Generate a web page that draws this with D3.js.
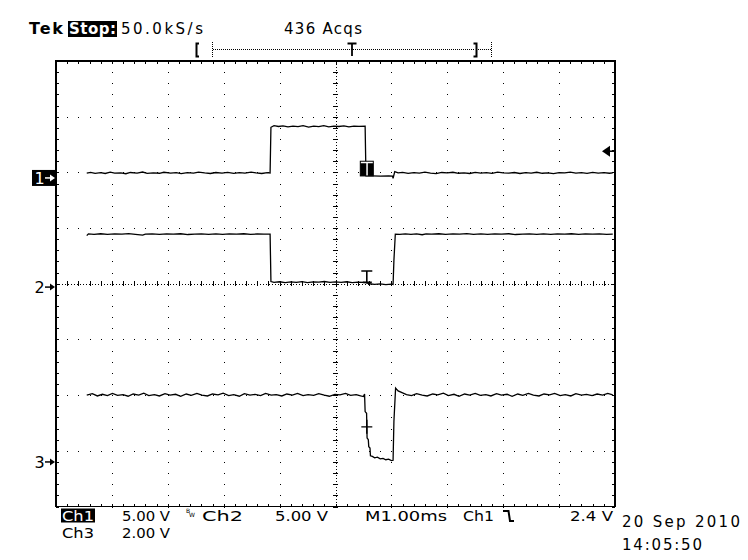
<!DOCTYPE html>
<html>
<head>
<meta charset="utf-8">
<script src="https://cdn.jsdelivr.net/npm/d3@7/dist/d3.min.js"></script>
<style>
  html, body { margin: 0; padding: 0; background: #fff; }
  svg { display: block; }
  text { font-family: "DejaVu Sans", sans-serif; fill: #000; }
  .cond { font-family: "DejaVu Sans Condensed", "DejaVu Sans", sans-serif; font-stretch: condensed; }
</style>
</head>
<body>
<svg id="scope" width="748" height="560"></svg>
<script>
// ---- data ----
// time in ms (1.00 ms/div, 10 divs), volts per channel
const timeDomain = [0, 10];
const divDomain = [-4, 4];
const channelNames = ["1", "2", "3"];
const voltsPerDiv = [5, 5, 2];
const groundDiv = [1.9, -0.06, -3.2];
const triggerLevel = 2.4; // V on Ch1

const ch1Trace = [
  [0.55,0.44],[0.62,0.50],[0.70,0.41],[0.80,0.47],[0.88,0.40],[0.97,0.52],[1.05,0.43],[1.16,0.46],
  [1.25,0.38],[1.33,0.49],[1.45,0.44],[1.55,0.53],[1.63,0.41],[1.74,0.46],[1.85,0.42],[1.93,0.51],
  [2.05,0.44],[2.15,0.47],[2.24,0.39],[2.35,0.48],[2.46,0.43],[2.55,0.52],[2.66,0.45],[2.76,0.40],
  [2.86,0.49],[2.97,0.44],[3.07,0.50],[3.18,0.41],[3.28,0.47],[3.38,0.43],[3.49,0.52],[3.58,0.45],
  [3.68,0.40],[3.78,0.48],[3.83,0.44],
  [3.845,4.55],[3.90,4.70],[3.98,4.62],[4.06,4.68],[4.15,4.58],[4.24,4.66],[4.33,4.60],[4.42,4.69],
  [4.52,4.57],[4.61,4.65],[4.70,4.61],[4.79,4.70],[4.88,4.59],[4.97,4.66],[5.06,4.62],[5.15,4.68],
  [5.24,4.58],[5.33,4.66],[5.42,4.63],[5.53,4.64],
  [5.545,0.18],[5.65,0.18],[5.80,0.17],[5.95,0.18],[6.02,0.16],[6.03,-0.03],[6.06,0.57],[6.12,0.45],
  [6.20,0.50],[6.30,0.41],[6.40,0.47],[6.50,0.43],[6.60,0.52],[6.70,0.44],[6.80,0.39],[6.90,0.49],
  [7.00,0.45],[7.10,0.51],[7.20,0.42],[7.30,0.46],[7.40,0.40],[7.50,0.50],[7.60,0.44],[7.70,0.47],
  [7.80,0.41],[7.90,0.52],[8.00,0.45],[8.10,0.43],[8.20,0.49],[8.30,0.40],[8.40,0.47],[8.50,0.44],
  [8.60,0.51],[8.70,0.42],[8.80,0.46],[8.90,0.39],[9.00,0.48],[9.10,0.45],[9.20,0.52],[9.30,0.43],
  [9.40,0.47],[9.50,0.41],[9.60,0.50],[9.70,0.44],[9.80,0.48],[9.90,0.42],[9.96,0.46]
];

const ch2Trace = [
  [0.55,4.62],[0.58,4.78],[0.68,4.74],[0.80,4.79],[0.92,4.73],[1.05,4.77],[1.18,4.75],[1.30,4.80],
  [1.42,4.74],[1.55,4.66],[1.60,4.76],[1.72,4.78],[1.85,4.73],[1.98,4.77],[2.10,4.75],[2.23,4.79],
  [2.36,4.72],[2.48,4.76],[2.60,4.78],[2.73,4.74],[2.86,4.77],[2.98,4.73],[3.10,4.78],[3.23,4.75],
  [3.36,4.79],[3.48,4.74],[3.60,4.77],[3.72,4.75],[3.83,4.76],
  [3.845,0.50],[3.90,0.42],[4.00,0.48],[4.10,0.40],[4.20,0.46],[4.30,0.43],[4.40,0.49],[4.50,0.41],
  [4.60,0.47],[4.70,0.44],[4.80,0.50],[4.90,0.42],[5.00,0.46],[5.10,0.43],[5.20,0.48],[5.30,0.41],
  [5.40,0.45],[5.50,0.42],[5.56,0.40],
  [5.60,0.30],[5.70,0.25],[5.80,0.28],[5.90,0.22],[6.00,0.26],[6.03,0.24],[6.045,2.40],[6.07,4.76],
  [6.15,4.74],[6.25,4.78],[6.35,4.73],[6.45,4.77],[6.55,4.70],[6.62,4.78],[6.72,4.75],[6.85,4.79],
  [6.97,4.73],[7.10,4.77],[7.22,4.75],[7.35,4.80],[7.47,4.74],[7.60,4.77],[7.72,4.73],[7.85,4.78],
  [7.97,4.75],[8.10,4.79],[8.22,4.72],[8.35,4.76],[8.47,4.78],[8.60,4.74],[8.72,4.77],[8.85,4.73],
  [8.97,4.78],[9.10,4.75],[9.22,4.79],[9.35,4.74],[9.47,4.77],[9.60,4.75],[9.72,4.78],[9.85,4.74],
  [9.96,4.76]
];

const ch3Trace = [
  [0.55,2.40],[0.65,2.45],[0.74,2.37],[0.83,2.43],[0.92,2.38],[1.01,2.46],[1.10,2.39],[1.20,2.42],
  [1.29,2.36],[1.38,2.44],[1.48,2.40],[1.57,2.47],[1.66,2.38],[1.76,2.42],[1.85,2.37],[1.95,2.45],
  [2.04,2.40],[2.14,2.43],[2.23,2.36],[2.33,2.44],[2.42,2.39],[2.52,2.46],[2.61,2.40],[2.71,2.37],
  [2.80,2.44],[2.90,2.41],[2.99,2.47],[3.09,2.38],[3.18,2.42],[3.28,2.36],[3.37,2.45],[3.47,2.40],
  [3.56,2.43],[3.66,2.38],[3.75,2.46],[3.85,2.40],[3.94,2.42],[4.04,2.37],[4.13,2.44],[4.23,2.40],
  [4.32,2.46],[4.42,2.38],[4.51,2.42],[4.61,2.39],[4.70,2.45],[4.80,2.40],[4.89,2.36],[4.99,2.43],
  [5.08,2.41],[5.18,2.46],[5.27,2.39],[5.37,2.42],[5.45,2.37],[5.50,2.35],[5.52,2.44],
  [5.53,1.81],[5.556,1.75],[5.565,0.86],[5.587,0.80],[5.595,0.55],[5.617,0.50],[5.625,0.22],
  [5.66,0.20],[5.70,0.15],[5.75,0.17],[5.80,0.11],[5.85,0.13],[5.90,0.08],[5.95,0.10],[6.00,0.05],
  [6.03,0.06],[6.045,1.45],[6.075,2.65],[6.12,2.55],[6.20,2.48],[6.27,2.42],
  [6.36,2.38],[6.45,2.45],[6.55,2.40],[6.64,2.37],[6.74,2.44],[6.83,2.41],[6.93,2.47],[7.02,2.38],
  [7.12,2.43],[7.21,2.36],[7.31,2.44],[7.40,2.40],[7.50,2.46],[7.59,2.39],[7.69,2.42],[7.78,2.37],
  [7.88,2.45],[7.97,2.40],[8.07,2.43],[8.16,2.36],[8.26,2.44],[8.35,2.39],[8.45,2.46],[8.54,2.40],
  [8.64,2.37],[8.73,2.44],[8.83,2.41],[8.92,2.46],[9.02,2.38],[9.11,2.42],[9.21,2.37],[9.30,2.45],
  [9.40,2.40],[9.49,2.43],[9.59,2.38],[9.68,2.44],[9.78,2.40],[9.87,2.46],[9.96,2.41]
];

// cursor marks sit on each trace at the Ch1 falling edge
const cursorTime = 5.56;
const cursorVolts = [[0.18, 1.5], [0.33, 1.44], [1.26]];

// readouts
const topLabels = ["Tek", "Stop:", "50.0kS/s", "436 Acqs"];
const bottomRow1 = ["Ch1", "5.00 V", "Ch2", "5.00 V", "M1.00ms", "Ch1", "2.4 V"];
const bottomRow2 = ["Ch3", "2.00 V"];
const stamp = ["20 Sep 2010", "14:05:50"];

// ---- layout ----
const X0 = 56, X1 = 615, Y0 = 61, Y1 = 506.5;

const svg = d3.select("#scope");
const x = d3.scaleLinear().domain(timeDomain).range([X0, X1]);
const yDiv = d3.scaleLinear().domain(divDomain).range([Y1, Y0]);
const yV = (ch, v) => yDiv(groundDiv[ch] + v / voltsPerDiv[ch]);

const minorX = d3.range(0, 10.001, 0.2);
const minorY = d3.range(-4, 4.001, 0.2);

// ===Graticule===
const grid = svg.append("g").attr("shape-rendering", "crispEdges");

// dotted division lines: one dot every minor step
d3.range(1, 10).filter(d => d !== 5).forEach(d => {
  grid.selectAll(null).data(minorY).join("rect")
    .attr("x", Math.round(x(d))).attr("y", v => Math.round(yDiv(v)))
    .attr("width", 1).attr("height", 1).attr("fill", "#000");
});
d3.range(-3, 4).filter(d => d !== 0).forEach(d => {
  grid.selectAll(null).data(minorX).join("rect")
    .attr("x", t => Math.round(x(t))).attr("y", Math.round(yDiv(d)))
    .attr("width", 1).attr("height", 1).attr("fill", "#000");
});

// centre cross: dense dots plus minor ticks
grid.append("line")
  .attr("x1", X0).attr("x2", X1).attr("y1", Math.round(yDiv(0)) + 0.5).attr("y2", Math.round(yDiv(0)) + 0.5)
  .attr("stroke", "#000").attr("stroke-dasharray", "1,2");
grid.append("line")
  .attr("y1", Y0).attr("y2", Y1).attr("x1", Math.round(x(5)) + 0.5).attr("x2", Math.round(x(5)) + 0.5)
  .attr("stroke", "#000").attr("stroke-dasharray", "1,2");
grid.selectAll(null).data(minorX).join("line")
  .attr("x1", t => Math.round(x(t)) + 0.5).attr("x2", t => Math.round(x(t)) + 0.5)
  .attr("y1", yDiv(0) - 2.5).attr("y2", yDiv(0) + 2.5)
  .attr("stroke", "#000");
grid.selectAll(null).data(minorY).join("line")
  .attr("y1", v => Math.round(yDiv(v)) + 0.5).attr("y2", v => Math.round(yDiv(v)) + 0.5)
  .attr("x1", x(5) - 2.5).attr("x2", x(5) + 2.5)
  .attr("stroke", "#000");

// edge ticks
grid.selectAll(null).data(minorX).join("line")
  .attr("x1", t => Math.round(x(t)) + 0.5).attr("x2", t => Math.round(x(t)) + 0.5)
  .attr("y1", Y0).attr("y2", Y0 + 3).attr("stroke", "#000");
grid.selectAll(null).data(minorX).join("line")
  .attr("x1", t => Math.round(x(t)) + 0.5).attr("x2", t => Math.round(x(t)) + 0.5)
  .attr("y1", Y1).attr("y2", Y1 - 3).attr("stroke", "#000");
grid.selectAll(null).data(minorY).join("line")
  .attr("y1", v => Math.round(yDiv(v)) + 0.5).attr("y2", v => Math.round(yDiv(v)) + 0.5)
  .attr("x1", X0).attr("x2", X0 + 3).attr("stroke", "#000");
grid.selectAll(null).data(minorY).join("line")
  .attr("y1", v => Math.round(yDiv(v)) + 0.5).attr("y2", v => Math.round(yDiv(v)) + 0.5)
  .attr("x1", X1).attr("x2", X1 - 3).attr("stroke", "#000");

grid.append("rect")
  .attr("x", X0).attr("y", Y0).attr("width", X1 - X0).attr("height", Y1 - Y0)
  .attr("fill", "none").attr("stroke", "#000").attr("stroke-width", 1.5);

// ===Traces===
const traces = [ch1Trace, ch2Trace, ch3Trace];
traces.forEach((data, ch) => {
  const line = d3.line().x(d => x(d[0])).y(d => yV(ch, d[1]));
  svg.append("path")
    .attr("d", line(data))
    .attr("fill", "none").attr("stroke", "#000").attr("stroke-width", 1.3)
    .attr("stroke-linejoin", "miter");
});

// cursor marks
const cx = x(cursorTime);
// Ch1: split black box
{
  const top = yV(0, cursorVolts[0][1]), bot = yV(0, cursorVolts[0][0]);
  svg.append("rect").attr("x", cx - 6.5).attr("y", top).attr("width", 13).attr("height", bot - top)
    .attr("fill", "#fff").attr("stroke", "#000").attr("stroke-width", 1);
  svg.append("rect").attr("x", cx - 6.5).attr("y", top + 2).attr("width", 6).attr("height", bot - top - 2)
    .attr("fill", "#000");
  svg.append("rect").attr("x", cx + 1).attr("y", top + 2).attr("width", 5.5).attr("height", bot - top - 2)
    .attr("fill", "#000");
}
// Ch2: I beam
{
  const top = yV(1, cursorVolts[1][1]), bot = yV(1, cursorVolts[1][0]);
  svg.append("path")
    .attr("d", `M${cx - 5.5},${top}H${cx + 5.5}M${cx},${top}V${bot}M${cx - 4},${bot - 1}H${cx + 5}`)
    .attr("stroke", "#000").attr("stroke-width", 1.6).attr("fill", "none");
}
// Ch3: plus
{
  const c = yV(2, cursorVolts[2][0]);
  svg.append("path")
    .attr("d", `M${cx - 5.5},${c}H${cx + 5.5}M${cx},${c - 7}V${c + 7}`)
    .attr("stroke", "#000").attr("stroke-width", 1.4).attr("fill", "none");
}

// ground markers on the left
channelNames.forEach((name, ch) => {
  const gy = yDiv(groundDiv[ch]);
  const g = svg.append("g");
  if (ch === 0) {
    g.append("rect").attr("x", 32).attr("y", gy - 8).attr("width", 23).attr("height", 16).attr("fill", "#000");
  }
  const col = ch === 0 ? "#fff" : "#000";
  g.append("text").attr("x", 34.5).attr("y", gy + 6).attr("font-size", 16)
    .style("fill", col).text(name);
  g.append("path").attr("d", `M45,${gy}H51`).attr("stroke", col).attr("stroke-width", 1.5);
  g.append("path").attr("d", `M50,${gy - 3.5}L55,${gy}L50,${gy + 3.5}Z`).attr("fill", col);
});

// trigger level arrow on the right
{
  const ty = yV(0, triggerLevel);
  svg.append("path").attr("d", `M602,${ty}L610,${ty - 5.5}V${ty + 5.5}Z`).attr("fill", "#000");
  svg.append("path").attr("d", `M609,${ty}H${X1}`).attr("stroke", "#000").attr("stroke-width", 1.5);
}

// ===Readouts===
function label(txt, x0, x1, yb, opts = {}) {
  const t = svg.append("text")
    .attr("x", x0).attr("y", yb)
    .attr("font-size", opts.size || 15)
    .attr("font-weight", opts.bold ? "bold" : null)
    .attr("textLength", x1 - x0)
    .attr("lengthAdjust", opts.adjust || "spacing")
    .text(txt);
  if (opts.cls) t.attr("class", opts.cls);
  if (opts.fill) t.style("fill", opts.fill);
  return t;
}

label(topLabels[0], 29, 63, 34, { bold: true, size: 16 });
svg.append("rect").attr("x", 68).attr("y", 21).attr("width", 49).attr("height", 16).attr("fill", "#000");
label(topLabels[1], 69, 116, 34, { bold: true, size: 15, fill: "#fff" });
label(topLabels[2], 121, 203, 34, { size: 15 });
label(topLabels[3], 284, 362, 34, { size: 15 });

// record bar
{
  const bar = svg.append("g").attr("stroke", "#000").attr("fill", "none");
  bar.append("path").attr("d", "M199,43.5H196.5V56.5H199").attr("stroke-width", 2);
  bar.append("path").attr("d", "M473.5,43.5H476.5V56.5H473.5").attr("stroke-width", 2);
  bar.append("path").attr("d", "M212.5,42V57M491.5,42V57").attr("stroke-dasharray", "1,1");
  bar.append("path").attr("d", "M213,49.5H475M478,49.5H491").attr("stroke-dasharray", "1,1");
  bar.append("path").attr("d", "M347.5,43.5H356.5M352,43.5V56").attr("stroke-width", 1.8);
}

// bottom readouts
const r1 = 521, r2 = 537.5;
const fs = 14.5;
svg.append("rect").attr("x", 61).attr("y", 508.5).attr("width", 34).attr("height", 14).attr("fill", "#000");
label(bottomRow1[0], 62, 94, r1, { size: fs, cls: "cond", adjust: "spacingAndGlyphs", fill: "#fff" });
label(bottomRow1[1], 122, 170, r1, { size: fs, cls: "cond", adjust: "spacingAndGlyphs" });
svg.append("text").attr("x", 186).attr("y", 513).attr("font-size", 6).text("B");
svg.append("text").attr("x", 189).attr("y", 517).attr("font-size", 6).text("W");
label(bottomRow1[2], 202, 243, r1, { size: fs, cls: "cond", adjust: "spacingAndGlyphs" });
label(bottomRow1[3], 275, 328, r1, { size: fs, cls: "cond", adjust: "spacingAndGlyphs" });
label(bottomRow1[4], 365, 447, r1, { size: fs, cls: "cond", adjust: "spacingAndGlyphs" });
label(bottomRow1[5], 463, 494, r1, { size: fs, cls: "cond", adjust: "spacingAndGlyphs" });
svg.append("path").attr("d", `M503,511H508.5L510,${r1}H514`)
  .attr("stroke", "#000").attr("stroke-width", 2).attr("fill", "none");
label(bottomRow1[6], 570, 613, r1, { size: fs, cls: "cond", adjust: "spacingAndGlyphs" });
label(bottomRow2[0], 62, 94, r2, { size: fs, cls: "cond", adjust: "spacingAndGlyphs" });
label(bottomRow2[1], 122, 170, r2, { size: fs, cls: "cond", adjust: "spacingAndGlyphs" });

label(stamp[0], 622, 740, 527, { size: 15 });
label(stamp[1], 622, 702, 550, { size: 15 });
</script>
</body>
</html>
